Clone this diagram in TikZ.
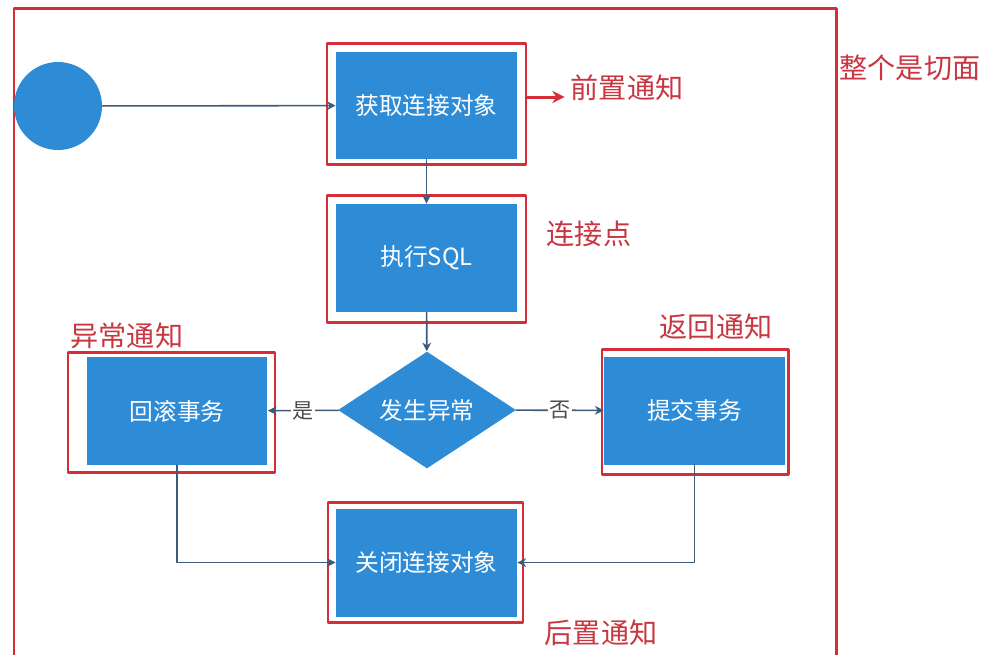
\documentclass[tikz,border=0pt]{standalone}
\usepackage{fontspec}
\setmainfont{Noto Sans CJK SC}
\usetikzlibrary{arrows.meta, shapes.geometric}

\definecolor{boxblue}{RGB}{46,139,214}
\definecolor{framered}{RGB}{214,46,56}
\definecolor{labelred}{RGB}{200,55,65}
\definecolor{linegray}{RGB}{62,92,122}

\begin{document}
\begin{tikzpicture}[x=0.02cm, y=-0.02cm, line cap=round, line join=round,
	blok/.style={rectangle, fill=boxblue, text=white, minimum width=3.62cm, minimum height=2.16cm, inner sep=0pt, font=\fontsize{13.5}{16}\selectfont},
	romb/.style={diamond, fill=boxblue, text=white, minimum width=3.56cm, minimum height=2.14cm, inner sep=0pt, font=\fontsize{13.5}{16}\selectfont},
	pometka/.style={text=labelred, font=\fontsize{16}{19}\selectfont},
	vetka/.style={fill=white, inner sep=1pt, text=black!70, font=\fontsize{12}{14}\selectfont},
	ramka/.style={draw=framered, line width=1.7pt},
	strelka/.style={draw=linegray, line width=0.9pt, -{Stealth[length=5pt, width=5pt]}}]
	\useasboundingbox (0,0) rectangle (998,654);

	% Весь аспект
	\draw[ramka] (14,664) -- (14,8) -- (836,8) -- (836,664);

	% Узлы
	\node[circle, fill=boxblue, minimum size=1.76cm, inner sep=0pt] (start) at (58,106) {};
	\node[blok] (get) at (426.5,105.5) {获取连接对象};
	\node[blok] (sql) at (426.5,258) {执行SQL};
	\node[romb] (exc) at (427,410) {发生异常};
	\node[blok] (roll) at (177,411) {回滚事务};
	\node[blok] (commit) at (694.5,410.5) {提交事务};
	\node[blok] (close) at (426.5,562.5) {关闭连接对象};

	% Красные рамки
	\foreach \xa/\ya/\xb/\yb in {327/43/526/164, 327/195/526/322, 68/352/275/472, 602/349/788/474, 328/502/523/622} {
		\draw[ramka] (\xa,\ya) rectangle (\xb,\yb);
	}

	% Подписи
	\node[pometka] (whole) at (910,68) {整个是切面};
	\node[pometka] (pre) at (627,88) {前置通知};
	\node[pometka] (join) at (589,234) {连接点};
	\node[pometka] (thrown) at (127,336) {异常通知};
	\node[pometka] (ret) at (716,327) {返回通知};
	\node[pometka] (post) at (601,633) {后置通知};

	% Стрелки
	\draw[strelka] (start) -- (get);
	\draw[strelka] (get) -- (sql);
	\draw[strelka] (sql) -- (exc);
	\draw[strelka] (exc) -- node[vetka] {是} (roll);
	\draw[strelka] (exc) -- node[vetka] {否} (commit);
	\draw[strelka] (roll.south) |- (close.west);
	\draw[strelka] (commit.south) |- (close.east);

	\coordinate (preA) at (526,97);
	\draw[draw=framered, line width=1.7pt, -{Stealth[length=7pt, width=7pt]}] (preA) -- (preA -| pre.west);
\end{tikzpicture}
\end{document}
